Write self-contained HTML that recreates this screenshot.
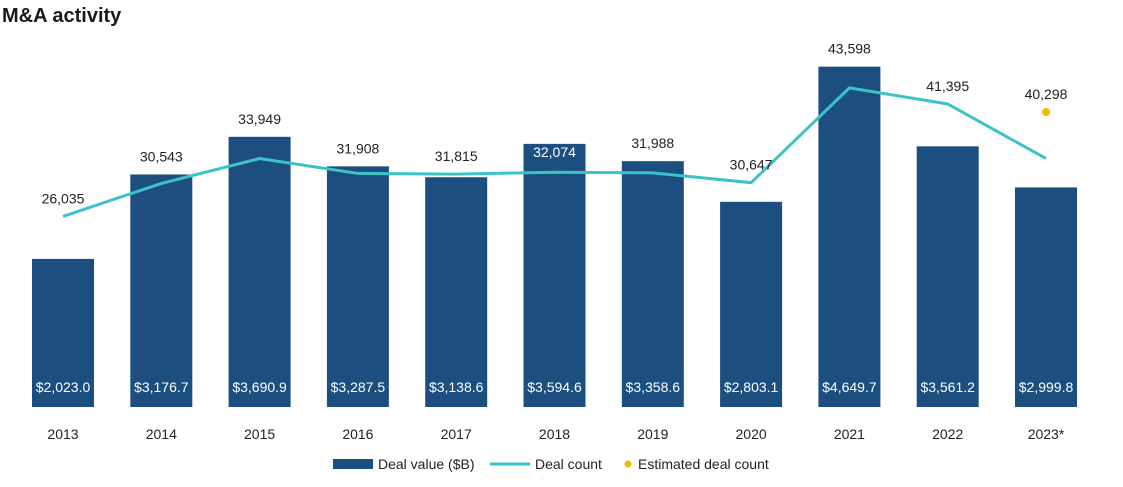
<!DOCTYPE html>
<html><head><meta charset="utf-8"><style>
body{margin:0;background:#fff;width:1123px;height:482px;overflow:hidden;font-family:"Liberation Sans",sans-serif}
svg text{font-family:"Liberation Sans",sans-serif}
</style></head><body>
<svg id="chart" width="1123" height="482">
<text x="2" y="22" font-size="20" font-weight="bold" fill="#1a1a1a">M&amp;A activity</text>
<g id="bars"></g><g id="line"></g><g id="labels"></g>
<g>
<rect x="333" y="459" width="40" height="10" fill="#1c4f80"/>
<text x="378" y="469" font-size="14" fill="#222">Deal value ($B)</text>
<line x1="490" y1="464" x2="530" y2="464" stroke="#3cc3c8" stroke-width="3"/>
<text x="535" y="469" font-size="14" fill="#222">Deal count</text>
<circle cx="628" cy="464" r="3.5" fill="#f5b800"/>
<text x="638" y="469" font-size="14" fill="#222">Estimated deal count</text>
</g>
</svg>
<script>
const years=["2013","2014","2015","2016","2017","2018","2019","2020","2021","2022","2023*"];
const dealValues=[2023.0,3176.7,3690.9,3287.5,3138.6,3594.6,3358.6,2803.1,4649.7,3561.2,2999.8];
const dealCounts=[26035,30543,33949,31908,31815,32074,31988,30647,43598,41395,33950];
const countLabels=["26,035","30,543","33,949","31,908","31,815","32,074","31,988","30,647","43,598","41,395","40,298"];
const labelInsideBar=[false,false,false,false,false,true,false,false,false,false,false];
const estimatedCount=40298;
const NS="http://www.w3.org/2000/svg";
const base=407;
const x=i=>63+i*98.3;
const yV=v=>base-v*0.0732;
const yC=c=>base-c*0.00732;
function mk(t,a,p){const e=document.createElementNS(NS,t);for(const k in a)e.setAttribute(k,a[k]);document.querySelector(p).appendChild(e);return e;}
years.forEach((yr,i)=>{
  const b=mk("rect",{x:x(i)-31,y:yV(dealValues[i]),width:62,height:base-yV(dealValues[i]),fill:"#1c4f80"},"#bars");
  
  
  const v=mk("text",{x:x(i),y:392,"font-size":14,fill:"#fff","text-anchor":"middle"},"#labels");
  v.textContent="$"+dealValues[i].toLocaleString("en-US",{minimumFractionDigits:1,maximumFractionDigits:1});
  
  
  const t=mk("text",{x:x(i),y:439,"font-size":14,fill:"#222","text-anchor":"middle"},"#labels");
  t.textContent=yr;
  
  
  const ly=i===10?yC(estimatedCount):yC(dealCounts[i]);
  const ty=labelInsideBar[i]?ly-15:Math.min(ly,yV(dealValues[i]))-13;
  const c=mk("text",{x:x(i),y:ty,"font-size":14,fill:labelInsideBar[i]?"#fff":"#222","text-anchor":"middle"},"#labels");
  c.textContent=countLabels[i];
  
  
});
const pl=mk("polyline",{points:dealCounts.map((c,i)=>x(i)+","+yC(c)).join(" "),fill:"none",stroke:"#3cc3c8","stroke-width":3},"#line");


const d=mk("circle",{cx:x(10),cy:yC(estimatedCount),r:4,fill:"#f5b800"},"#line");


</script>
</body></html>
